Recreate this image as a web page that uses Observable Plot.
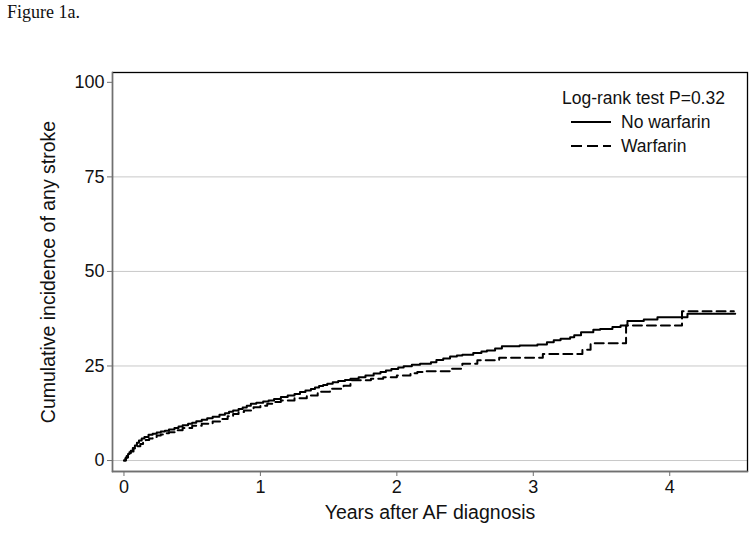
<!DOCTYPE html>
<html>
<head>
<meta charset="utf-8">
<script src="https://cdn.jsdelivr.net/npm/d3@7"></script>
<script src="https://cdn.jsdelivr.net/npm/@observablehq/plot@0.6"></script>
<style>
  html, body { margin: 0; padding: 0; background: #fff; }
  #wrap { position: relative; width: 754px; height: 534px; overflow: hidden; }
  #fig { position: absolute; left: 7px; top: 2px; font-family: "Liberation Serif", "Times New Roman", serif; font-size: 18px; color: #111; }
  #legend { position: absolute; left: 562px; top: 86px; font-family: "Liberation Sans", Arial, sans-serif; font-size: 17.5px; color: #111; }
  #legend .row { display: flex; align-items: center; height: 24px; }
  #legend .row svg { margin-left: 9px; margin-right: 10px; }
  #legend .title { height: 24px; line-height: 24px; }
</style>
</head>
<body>
<div id="wrap">
  <div id="fig"></div>
  <div id="legend"></div>
</div>
<script>
// ---- data ----
const figureTitle = "Figure 1a.";
const xTitle = "Years after AF diagnosis";
const yTitle = "Cumulative incidence of any stroke";
const legendTitle = "Log-rank test P=0.32";
const groups = ["No warfarin", "Warfarin"];
const xTicks = [0, 1, 2, 3, 4];
const yTicks = [0, 25, 50, 75, 100];
const gridValues = [0, 25, 50, 75];

const noWarfarinYears = [0, 0.01, 0.02, 0.03, 0.04, 0.05, 0.065, 0.08, 0.095, 0.11, 0.13, 0.15, 0.18, 0.21, 0.24, 0.27, 0.30, 0.33, 0.37, 0.40, 0.43, 0.47, 0.50, 0.53, 0.57, 0.61, 0.65, 0.70, 0.74, 0.77, 0.80, 0.84, 0.87, 0.90, 0.93, 0.97, 1.02, 1.06, 1.10, 1.15, 1.20, 1.25, 1.29, 1.33, 1.37, 1.40, 1.43, 1.46, 1.49, 1.53, 1.57, 1.62, 1.66, 1.72, 1.77, 1.83, 1.88, 1.92, 1.96, 2.01, 2.05, 2.11, 2.17, 2.25, 2.29, 2.34, 2.39, 2.44, 2.48, 2.56, 2.62, 2.66, 2.72, 2.77, 2.90, 3.03, 3.10, 3.15, 3.20, 3.27, 3.30, 3.35, 3.44, 3.49, 3.58, 3.64, 3.69, 3.81, 3.91, 4.13, 4.48];
const noWarfarinValues = [0, 0.6, 1.2, 1.7, 2.2, 2.6, 3.3, 4.0, 4.7, 5.3, 5.8, 6.2, 6.8, 7.1, 7.4, 7.65, 7.9, 8.2, 8.6, 9.0, 9.3, 9.7, 10.0, 10.4, 10.8, 11.2, 11.6, 12.1, 12.5, 12.9, 13.2, 13.6, 14.0, 14.5, 15.0, 15.3, 15.6, 15.9, 16.3, 16.8, 17.2, 17.6, 18.1, 18.5, 18.9, 19.3, 19.7, 20.0, 20.3, 20.7, 21.0, 21.3, 21.6, 22.0, 22.5, 23.0, 23.4, 23.8, 24.2, 24.6, 24.9, 25.3, 25.6, 26.0, 26.6, 27.0, 27.5, 27.8, 28.0, 28.4, 28.8, 29.1, 29.6, 30.2, 30.4, 30.7, 31.3, 31.8, 32.2, 32.6, 33.1, 33.9, 34.6, 34.8, 35.3, 35.7, 36.9, 37.3, 37.9, 38.8, 38.8];

const warfarinYears = [0, 0.015, 0.03, 0.05, 0.07, 0.095, 0.12, 0.14, 0.16, 0.185, 0.21, 0.24, 0.27, 0.30, 0.33, 0.38, 0.43, 0.50, 0.57, 0.65, 0.72, 0.76, 0.80, 0.84, 0.88, 0.95, 1.00, 1.05, 1.10, 1.15, 1.25, 1.34, 1.42, 1.51, 1.61, 1.66, 1.81, 1.90, 2.00, 2.10, 2.15, 2.20, 2.40, 2.48, 2.59, 2.75, 3.07, 3.36, 3.42, 3.68, 4.09, 4.47];
const warfarinValues = [0, 0.8, 1.5, 2.4, 3.2, 3.8, 4.4, 4.9, 5.4, 5.8, 6.2, 6.6, 6.9, 7.2, 7.5, 8.0, 8.6, 9.2, 9.7, 10.3, 11.0, 11.7, 12.3, 12.8, 13.2, 14.1, 14.5, 15.0, 15.5, 15.9, 16.5, 17.2, 18.2, 19.0, 19.8, 21.2, 21.6, 22.0, 22.5, 23.1, 23.4, 23.6, 24.3, 25.6, 26.5, 27.2, 28.2, 29.3, 31.0, 35.7, 39.5, 39.5];

// ---- build tables ----
const noWarfarin = noWarfarinYears.map((t, i) => ({t, v: noWarfarinValues[i], g: groups[0]}));
const warfarin = warfarinYears.map((t, i) => ({t, v: warfarinValues[i], g: groups[1]}));
const dashes = "9,5";

const chart = Plot.plot({
  width: 754,
  height: 534,
  marginLeft: 112,
  marginRight: 7,
  marginTop: 72,
  marginBottom: 63,
  style: {fontFamily: "'Liberation Sans', Arial, sans-serif", fontSize: "17px", background: "transparent", color: "#111", overflow: "visible"},
  x: {domain: [-0.084, 4.57]},
  y: {domain: [-2.9, 102.6]},
  marks: [
    Plot.ruleY(gridValues, {stroke: "#c8c8c8", strokeWidth: 1}),
    Plot.line(noWarfarin, {x: "t", y: "v", curve: "step-after", stroke: "#000", strokeWidth: 2}),
    Plot.line(warfarin, {x: "t", y: "v", curve: "step-after", stroke: "#000", strokeWidth: 2, strokeDasharray: dashes}),
    Plot.frame({stroke: "#000", strokeWidth: 1.3}),
    Plot.frame({anchor: "left", stroke: "#707070", strokeWidth: 1.3}),
    Plot.frame({anchor: "bottom", stroke: "#707070", strokeWidth: 1.3}),
    Plot.axisY({ticks: yTicks, tickFormat: d => String(d), tickSize: 5, tickPadding: 3, stroke: "#707070", fill: "#111", fontSize: 18, label: null}),
    Plot.axisX({ticks: xTicks, tickFormat: d => String(d), tickSize: 5, tickPadding: 4, stroke: "#707070", fill: "#111", fontSize: 18, label: null}),
    Plot.text([yTitle], {frameAnchor: "left", rotate: -90, dx: -64, textAnchor: "middle", fontSize: 19.5, fill: "#111"}),
    Plot.text([xTitle], {frameAnchor: "bottom", dy: 47, textAnchor: "middle", fontSize: 19.5, fill: "#111"})
  ]
});
document.getElementById("wrap").appendChild(chart);
chart.style.position = "absolute";
chart.style.left = "0px";
chart.style.top = "0px";

document.getElementById("fig").textContent = figureTitle;

// legend (inside the plot region, top right)
const legend = document.getElementById("legend");
const lt = document.createElement("div");
lt.className = "title";
lt.textContent = legendTitle;
legend.appendChild(lt);
groups.forEach((g, i) => {
  const row = document.createElement("div");
  row.className = "row";
  const s = d3.create("svg").attr("width", 40).attr("height", 6);
  s.append("line").attr("x1", 0).attr("x2", 40).attr("y1", 3).attr("y2", 3)
    .attr("stroke", "#000").attr("stroke-width", 2)
    .attr("stroke-dasharray", i === 1 ? "11,5" : null);
  row.appendChild(s.node());
  const span = document.createElement("span");
  span.textContent = g;
  row.appendChild(span);
  legend.appendChild(row);
});
</script>
</body>
</html>
